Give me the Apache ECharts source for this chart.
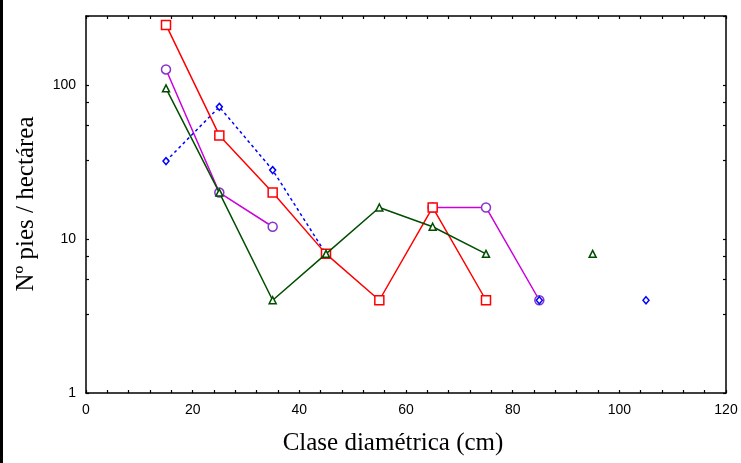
<!DOCTYPE html>
<html>
<head>
<meta charset="utf-8">
<script src="https://cdn.jsdelivr.net/npm/echarts@6/dist/echarts.min.js"></script>
<style>
html,body{margin:0;padding:0;background:#fff;}
#c{width:741px;height:463px;}
</style>
</head>
<body>
<div id="c"></div>
<script>
// Diameter classes (cm)
var classes = [15, 25, 35, 45, 55, 65, 75, 85, 95, 105];
// Trees per hectare for each series (null = no data)
var seriesMagenta = [126, 20, 12, null, null, 16, 16, 4, null, null];
var seriesBlue    = [32, 72, 28, 8, null, null, null, 4, null, 4];
var seriesRed     = [245, 47, 20, 8, 4, 16, 4, null, null, null];
var seriesGreen   = [95, 20, 4, 8, 16, 12, 8, null, 8, null];
// Axis tick labels
var xTicks = [0, 20, 40, 60, 80, 100, 120];
var yTicks = [1, 10, 100];

function pairs(vals) {
  return classes.map(function (x, i) {
    return [x, vals[i] == null ? '-' : vals[i]];
  });
}

var chart = echarts.init(document.getElementById('c'), null, {renderer: 'canvas'});

var labelFont = {fontFamily: 'Liberation Sans, Arial, sans-serif', fontSize: 14, color: '#000'};
var axisLine = {show: true, onZero: false, lineStyle: {color: '#000', width: 1.5}};

function xAxisCfg(pos, showLabel) {
  return {
    type: 'value', position: pos, min: 0, max: 120, interval: 20,
    axisLine: axisLine,
    axisTick: {show: true, inside: true, length: 3, lineStyle: {color: '#000', width: 1.2}},
    minorTick: {show: true, splitNumber: 5, length: 3, lineStyle: {color: '#000', width: 1.2}},
    axisLabel: Object.assign({show: showLabel, margin: 10}, labelFont),
    splitLine: {show: false}, minorSplitLine: {show: false}
  };
}
function yAxisCfg(pos, showLabel) {
  return {
    type: 'log', logBase: 10, position: pos, min: 1, max: 280,
    axisLine: axisLine,
    axisTick: {show: true, inside: true, length: 3, lineStyle: {color: '#000', width: 1.2}},
    minorTick: {show: true, splitNumber: 4, length: 3, lineStyle: {color: '#000', width: 1.2}},
    axisLabel: Object.assign({
      show: showLabel, margin: 10, showMaxLabel: false,
      formatter: function (v) { return yTicks.indexOf(v) >= 0 ? String(v) : ''; }
    }, labelFont),
    splitLine: {show: false}, minorSplitLine: {show: false}
  };
}

function lineSeries(name, vals, color, symColor, symbol, size, dashed, z) {
  return {
    name: name, type: 'line', data: pairs(vals), connectNulls: false,
    symbol: symbol, symbolSize: size, showSymbol: true, showAllSymbol: true,
    z: z,
    lineStyle: {color: color, width: 1.5, type: dashed ? [3, 3] : 'solid'},
    itemStyle: {color: '#fff', borderColor: symColor, borderWidth: 1.5},
    emphasis: {disabled: true}
  };
}

var titleFont = '25px "Liberation Serif", "Times New Roman", serif';

chart.setOption({
  animation: false,
  backgroundColor: '#fff',
  grid: {left: 86, right: 15, top: 16, bottom: 70, containLabel: false},
  xAxis: [xAxisCfg('bottom', true), xAxisCfg('top', false)],
  yAxis: [yAxisCfg('left', true), yAxisCfg('right', false)],
  graphic: [
    {type: 'rect', left: 0, top: 0, shape: {width: 3, height: 463}, style: {fill: '#000'}},
    {type: 'text', x: 393, y: 443,
     style: {text: 'Clase diamétrica (cm)', font: titleFont, fill: '#000', textAlign: 'center', textVerticalAlign: 'middle'}},
    {type: 'text', x: 26, y: 204, rotation: Math.PI / 2,
     style: {text: 'Nº pies / hectárea', font: titleFont, fill: '#000', textAlign: 'center', textVerticalAlign: 'middle'}}
  ],
  series: [
    lineSeries('Magenta', seriesMagenta, '#cc00dd', '#8833cc', 'circle', 9, false, 2),
    lineSeries('Azul', seriesBlue, '#0000ff', '#0000ff', 'diamond', [6, 7], true, 3),
    lineSeries('Rojo', seriesRed, '#ff0000', '#ff0000', 'rect', 9, false, 4),
    lineSeries('Verde', seriesGreen, '#004d00', '#004d00', 'triangle', 7, false, 5)
  ]
});
</script>
</body>
</html>
